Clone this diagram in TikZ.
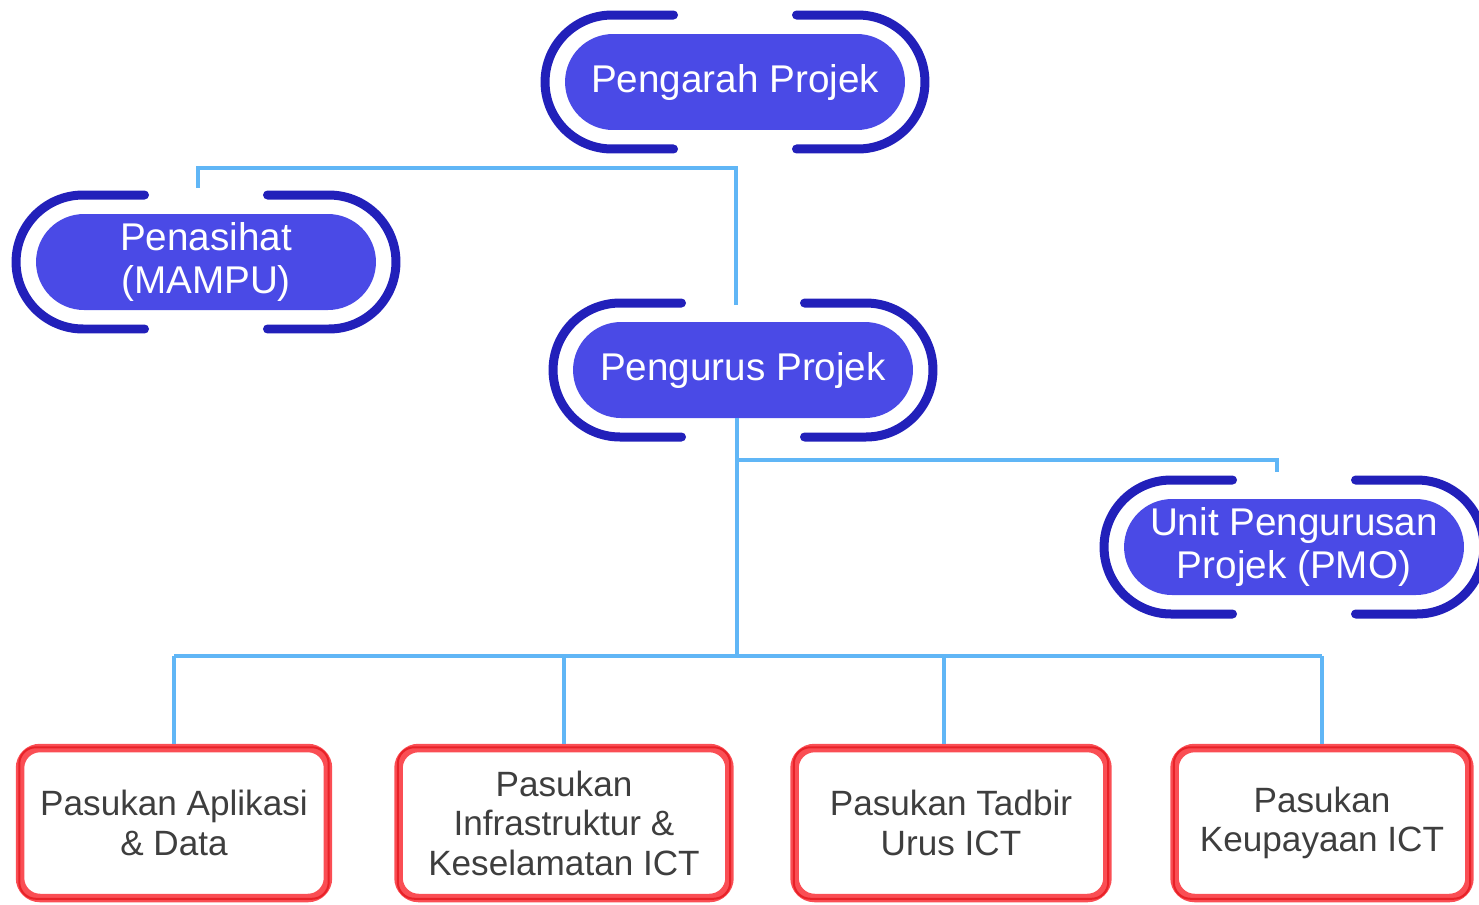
\documentclass[tikz,border=0pt]{standalone}
\usepackage{fontspec}
\setmainfont{Liberation Sans}
\usepackage{tikz}
\usepackage{xcolor}

\definecolor{isipil}{RGB}{74,74,230}
\definecolor{kurung}{RGB}{34,32,186}
\definecolor{garisbiru}{RGB}{96,182,246}
\definecolor{merahkotak}{RGB}{250,78,84}
\definecolor{merahtua}{RGB}{232,34,40}
\definecolor{tekskelabu}{RGB}{62,62,62}

\tikzset{
  pil/.style={fill=isipil, text=white, rounded corners=0.96cm, minimum width=6.8cm, minimum height=1.92cm, inner sep=0pt, align=center, font=\fontsize{22}{24.5}\selectfont},
  kurungan/.style={draw=kurung, line width=0.18cm, line cap=round},
  garis/.style={draw=garisbiru, line width=0.07cm},
  pasukan/.style={draw=merahkotak, line width=0.17cm, rounded corners=0.4cm, minimum height=3cm, inner sep=0pt, text=tekskelabu, align=center, font=\fontsize{20}{22.5}\selectfont},
}

\newcommand{\kurungkan}[1]{%
\draw[kurungan] ([xshift=-1.23cm,yshift=1.34cm]#1.center) -- ([xshift=-2.46cm,yshift=1.34cm]#1.center) arc[start angle=90, end angle=270, radius=1.34cm] -- ([xshift=-1.23cm,yshift=-1.34cm]#1.center);
\draw[kurungan] ([xshift=1.23cm,yshift=1.34cm]#1.center) -- ([xshift=2.46cm,yshift=1.34cm]#1.center) arc[start angle=90, end angle=-90, radius=1.34cm] -- ([xshift=1.23cm,yshift=-1.34cm]#1.center);
}

\begin{document}
\begin{tikzpicture}[x=0.02cm, y=-0.02cm]
\useasboundingbox (0,0) rectangle (1479,904);
\node[pil] (pengarah) at (735,82) {Pengarah Projek};
\node[pil] (penasihat) at (206,262) {Penasihat\\(MAMPU)};
\node[pil] (pengurus) at (743,370) {Pengurus Projek};
\node[pil] (pmo) at (1294,547) {Unit Pengurusan\\Projek (PMO)};
\kurungkan{pengarah}
\kurungkan{penasihat}
\kurungkan{pengurus}
\kurungkan{pmo}
\node[pasukan, minimum width=6.16cm] (pasukanA) at (174,823) {Pasukan Aplikasi\\\& Data};
\node[pasukan, minimum width=6.62cm] (pasukanB) at (564,823) {Pasukan\\Infrastruktur \&\\Keselamatan ICT};
\node[pasukan, minimum width=6.26cm] (pasukanC) at (951,823) {Pasukan Tadbir\\Urus ICT};
\node[pasukan, minimum width=5.9cm] (pasukanD) at (1322,823) {Pasukan\\Keupayaan ICT};
\draw[merahtua, line width=0.04cm, rounded corners=0.33cm] ([shift={(0.07cm,-0.07cm)}]pasukanA.north west) rectangle ([shift={(-0.07cm,0.07cm)}]pasukanA.south east);
\draw[merahtua, line width=0.04cm, rounded corners=0.33cm] ([shift={(0.07cm,-0.07cm)}]pasukanB.north west) rectangle ([shift={(-0.07cm,0.07cm)}]pasukanB.south east);
\draw[merahtua, line width=0.04cm, rounded corners=0.33cm] ([shift={(0.07cm,-0.07cm)}]pasukanC.north west) rectangle ([shift={(-0.07cm,0.07cm)}]pasukanC.south east);
\draw[merahtua, line width=0.04cm, rounded corners=0.33cm] ([shift={(0.07cm,-0.07cm)}]pasukanD.north west) rectangle ([shift={(-0.07cm,0.07cm)}]pasukanD.south east);
\coordinate (simpangatas) at (736,168);
\coordinate (ataspenasihat) at (198,188);
\coordinate (ataspengurus) at (736,305);
\coordinate (simpangpmo) at (737,460);
\coordinate (ataspmo) at (1277,472);
\coordinate (simpangbawah) at (737,656);
\draw[garis] (ataspenasihat) |- (simpangatas) -- (ataspengurus);
\draw[garis] (pengurus.south -| simpangbawah) -- (simpangbawah);
\draw[garis] (simpangpmo) -| (ataspmo);
\draw[garis] (pasukanA.north |- simpangbawah) -- (pasukanD.north |- simpangbawah);
\draw[garis] (pasukanA.north |- simpangbawah) -- (pasukanA.north);
\draw[garis] (pasukanB.north |- simpangbawah) -- (pasukanB.north);
\draw[garis] ([xshift=-0.14cm]pasukanC.north |- simpangbawah) -- ([xshift=-0.14cm]pasukanC.north);
\draw[garis] (pasukanD.north |- simpangbawah) -- (pasukanD.north);
\end{tikzpicture}
\end{document}
